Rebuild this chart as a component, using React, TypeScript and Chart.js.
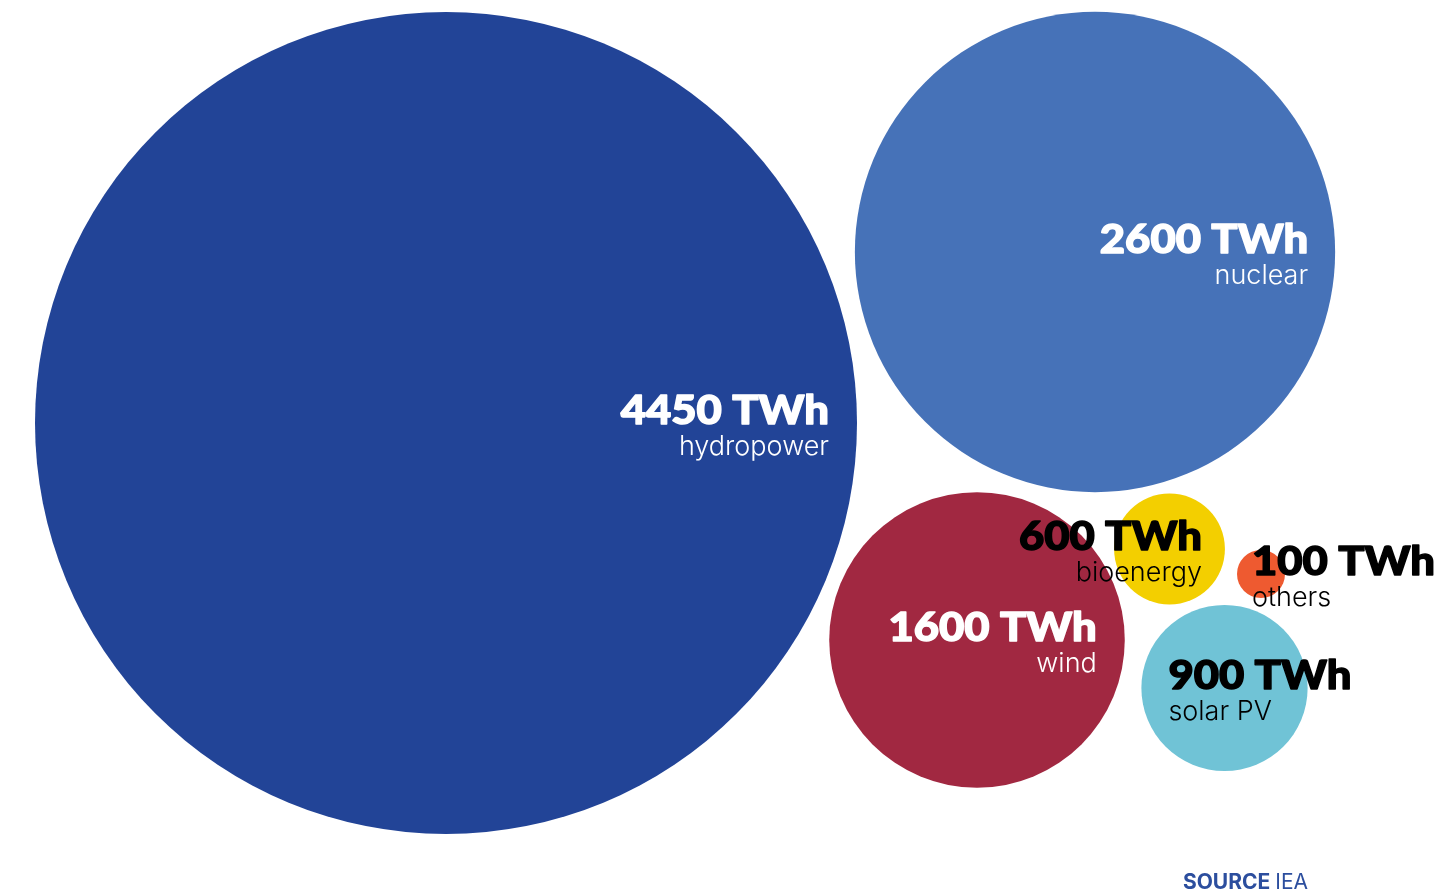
import React, { useEffect, useRef } from "react";
import { Chart, registerables } from "chart.js";

Chart.register(...registerables);

// ---- data ----
const categories = ["hydropower", "nuclear", "wind", "bioenergy", "others", "solar PV"];
const valuesTWh = [4450, 2600, 1600, 600, 100, 900];
const colors = ["#224497", "#4672B8", "#A12841", "#F3CF00", "#EE5A30", "#70C3D6"];
const textColors = ["#FFFFFF", "#FFFFFF", "#FFFFFF", "#000000", "#000000", "#000000"];
// packed-bubble layout coordinates (layout units = px of 1444x893 frame)
const layoutX = [446, 1095, 977, 1169.5, 1261, 1224.5];
const layoutY = [423, 252, 640, 549, 574, 688];
const labelSide = ["right", "right", "right", "right", "left", "left"];
const labelInset = [28, 27, 28, 23, 15, 27];
const unit = "TWh";
const sourceLabel = "SOURCE";
const sourceName = "IEA";

const RADIUS_PER_TWH = 411 / 4450;
const MIN_RADIUS = 24;

const labelsPlugin = {
  id: "bubbleLabels",
  afterDatasetsDraw(chart: any) {
    const ctx = chart.ctx as CanvasRenderingContext2D;
    const meta = chart.getDatasetMeta(0);
    ctx.save();
    meta.data.forEach((el: any, i: number) => {
      const r = Math.max(valuesTWh[i] * RADIUS_PER_TWH, MIN_RADIUS);
      const side = labelSide[i];
      const x = side === "right" ? el.x + r - labelInset[i] : el.x - r + labelInset[i];
      ctx.textAlign = side === "right" ? "right" : "left";
      ctx.textBaseline = "alphabetic";
      ctx.fillStyle = textColors[i];
      ctx.strokeStyle = textColors[i];
      ctx.save();
      ctx.translate(x, el.y + 1);
      ctx.scale(1.09, 1);
      ctx.font = "900 40px Lato";
      ctx.lineWidth = 1.4;
      ctx.lineJoin = "round";
      ctx.fillText(`${valuesTWh[i]} ${unit}`, 0, 0);
      ctx.strokeText(`${valuesTWh[i]} ${unit}`, 0, 0);
      ctx.restore();
      ctx.font = "300 27px Inter";
      ctx.fillText(categories[i], x, el.y + 32);
    });
    // source
    const right = 1308;
    const base = 889;
    ctx.textAlign = "left";
    ctx.fillStyle = "#2C4E9E";
    ctx.font = "700 21px Inter";
    const w1 = ctx.measureText(sourceLabel + " ").width;
    ctx.font = "400 21px Inter";
    const w2 = ctx.measureText(sourceName).width;
    const start = right - w1 - w2;
    ctx.font = "700 21px Inter";
    ctx.fillText(sourceLabel + " ", start, base);
    ctx.font = "400 21px Inter";
    ctx.fillText(sourceName, start + w1, base);
    ctx.restore();
  },
};

export default function App() {
  const ref = useRef<HTMLCanvasElement | null>(null);
  useEffect(() => {
    document.body.style.margin = "0";
    if (!ref.current) return;
    const chart = new Chart(ref.current, {
      type: "bubble",
      data: {
        datasets: [
          {
            label: "Generation",
            data: valuesTWh.map((v, i) => ({ x: layoutX[i], y: layoutY[i], r: Math.max(v * RADIUS_PER_TWH, MIN_RADIUS) })),
            backgroundColor: colors,
            borderWidth: 0,
            hoverRadius: 0,
            clip: false as any,
          },
        ],
      },
      options: {
        animation: false,
        responsive: true,
        maintainAspectRatio: false,
        layout: { padding: 0, autoPadding: false } as any,
        plugins: { legend: { display: false }, tooltip: { enabled: false } },
        events: [],
        scales: {
          x: { type: "linear", min: 0, max: 1444, display: false },
          y: { type: "linear", min: 0, max: 893, reverse: true, display: false },
        },
      },
      plugins: [labelsPlugin],
    });
    return () => chart.destroy();
  }, []);
  return (
    <div style={{ position: "absolute", left: 0, top: 0, width: 1444, height: 893, background: "#fff" }}>
      <canvas ref={ref} />
    </div>
  );
}
